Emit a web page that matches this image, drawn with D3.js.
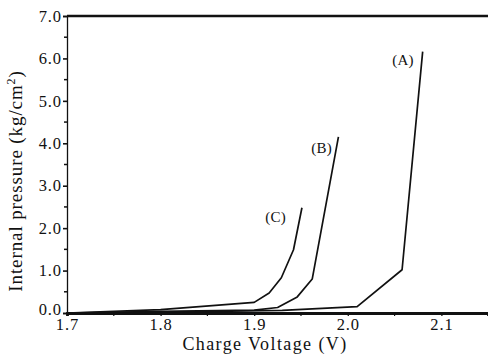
<!DOCTYPE html>
<html>
<head>
<meta charset="utf-8">
<script src="https://cdn.jsdelivr.net/npm/d3@7"></script>
<style>
  html, body { margin: 0; padding: 0; background: #fff; }
  svg { display: block; }
  text { font-family: "Liberation Serif", "DejaVu Serif", serif; fill: #111; }
</style>
</head>
<body>
<svg id="chart" width="488" height="355"></svg>
<script>
// Internal pressure vs. charge voltage for three cells
const xTicks = [1.7, 1.8, 1.9, 2.0, 2.1];
const xMinor = [1.75, 1.85, 1.95, 2.05];
const yTicks = [0, 1, 2, 3, 4, 5, 6, 7];
const yMinor = [0.5, 1.5, 2.5, 3.5, 4.5, 5.5, 6.5];

const voltA = [1.70, 1.80, 1.93, 2.010, 2.058, 2.080];
const presA = [0.00, 0.02, 0.06, 0.15, 1.02, 6.16];

const voltB = [1.70, 1.80, 1.90, 1.925, 1.946, 1.962, 1.990];
const presB = [0.00, 0.04, 0.07, 0.13, 0.38, 0.80, 4.15];

const voltC = [1.70, 1.80, 1.900, 1.916, 1.929, 1.942, 1.951];
const presC = [0.00, 0.08, 0.25, 0.47, 0.83, 1.49, 2.48];

const labels = ["(A)", "(B)", "(C)"];
const labelAt = [[2.059, 5.85], [1.972, 3.78], [1.923, 2.15]];

const svg = d3.select("#chart");
const x = d3.scaleLinear().domain([1.7, 2.1498]).range([67, 488]);
const y = d3.scaleLinear().domain([0, 7]).range([313, 16]);

const tickFont = g => g.selectAll("text")
  .attr("font-size", 16.5).attr("letter-spacing", 0.9)
  .attr("font-family", "Liberation Serif, serif").attr("fill", "#111");

// Y axis: labelled major ticks plus unlabelled half-unit ticks
const yAxis = svg.append("g").attr("transform", "translate(67,0)")
  .call(d3.axisLeft(y).tickValues(yTicks).tickFormat(d3.format(".1f")).tickSize(4).tickPadding(1));
yAxis.select(".domain").attr("stroke", "#111").attr("stroke-width", 1.3);
yAxis.selectAll(".tick line").attr("stroke", "#111").attr("stroke-width", 1.6);
yAxis.call(tickFont);
// the zero label sits slightly above its tick, clear of the x labels
yAxis.selectAll(".tick text").filter(d => d === 0).attr("y", -4);
svg.append("g").selectAll("line").data(yMinor).join("line")
  .attr("x1", 64).attr("x2", 67).attr("y1", d => y(d)).attr("y2", d => y(d))
  .attr("stroke", "#111").attr("stroke-width", 1.5);

// X axis
const xAxis = svg.append("g").attr("transform", "translate(0,313)")
  .call(d3.axisBottom(x).tickValues(xTicks).tickFormat(d3.format(".1f")).tickSize(3).tickPadding(2));
xAxis.select(".domain").attr("stroke", "#111").attr("stroke-width", 2.8);
xAxis.selectAll(".tick line").attr("stroke", "#111").attr("stroke-width", 1.3);
xAxis.call(tickFont);
svg.append("g").selectAll("line").data(xMinor).join("line")
  .attr("x1", d => x(d)).attr("x2", d => x(d)).attr("y1", 313).attr("y2", 316)
  .attr("stroke", "#111").attr("stroke-width", 1.2);

// Top frame line
svg.append("line").attr("x1", x(1.7)).attr("x2", x(2.1498)).attr("y1", y(7)).attr("y2", y(7))
  .attr("stroke", "#111").attr("stroke-width", 2.4);

// Curves
const line = d3.line().x(d => x(d[0])).y(d => y(d[1]));
const series = [
  d3.zip(voltA, presA),
  d3.zip(voltB, presB),
  d3.zip(voltC, presC)
];
svg.append("g").selectAll("path").data(series).join("path")
  .attr("d", line).attr("fill", "none").attr("stroke", "#111")
  .attr("stroke-width", 1.7).attr("stroke-linejoin", "round");

// Curve labels
svg.append("g").selectAll("text").data(labels).join("text")
  .attr("x", (d, i) => x(labelAt[i][0])).attr("y", (d, i) => y(labelAt[i][1]))
  .attr("text-anchor", "middle").attr("font-size", 15).attr("letter-spacing", 0.3).text(d => d);

// Axis titles
svg.append("text").attr("x", 265).attr("y", 350).attr("text-anchor", "middle")
  .attr("font-size", 18).attr("letter-spacing", 1.4).text("Charge Voltage (V)");
svg.append("text").attr("transform", "translate(22,181) rotate(-90)")
  .attr("text-anchor", "middle").attr("font-size", 19).attr("letter-spacing", 0.9)
  .html("Internal pressure (kg/cm<tspan dy='-7' font-size='12'>2</tspan><tspan dy='7'>)</tspan>");
</script>
</body>
</html>
